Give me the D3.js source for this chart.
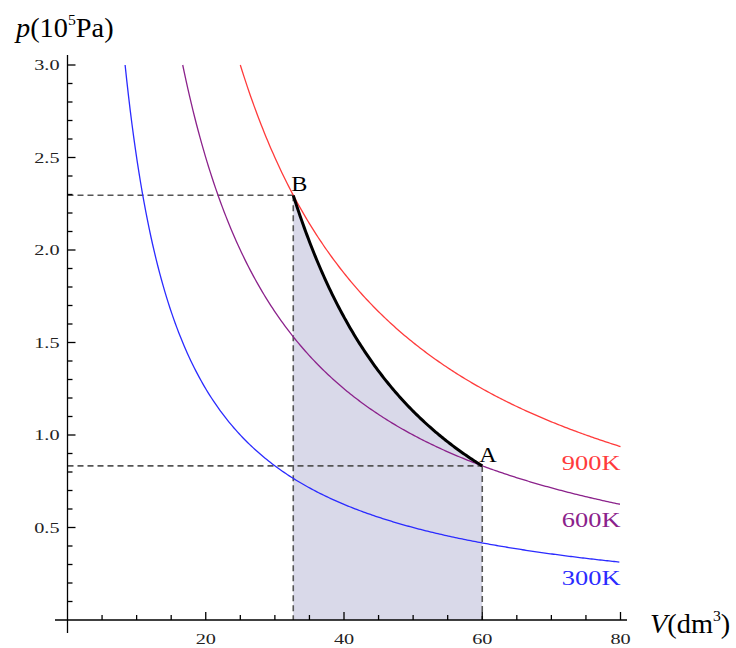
<!DOCTYPE html>
<html lang="en">
<head>
<meta charset="UTF-8">
<title>Isotherms and adiabat</title>
<script src="https://d3js.org/d3.v7.min.js"></script>
<style>
    body { margin: 0; background: #fff; }
    text { font-family: "Liberation Serif", "Times New Roman", serif; }
    .tick-label { font-size: 15px; fill: #222; }
    .axis-title { font-size: 27px; fill: #000; }
    .curve-label { font-size: 22px; }
</style>
</head>
<body>
<script>
// isotherms: p*V = const (10^5 Pa * dm^3)
const temps = [300, 600, 900];
const pvProducts = [25, 50, 75];
const isoColors = ["#2b2bff", "#8b228b", "#ff3b3b"];

// state points
const pointNames = ["A", "B"];
const pointV = [60, 32.66];
const pointP = [0.833, 2.296];
const gamma = 5 / 3;

const xMajor = [20, 40, 60, 80];
const yMajor = [0.5, 1.0, 1.5, 2.0, 2.5, 3.0];

const width = 736, height = 648;
const svg = d3.select("body").append("svg")
    .attr("width", width).attr("height", height);

const x = d3.scaleLinear().domain([0, 80]).range([67.5, 620.5]);
const y = d3.scaleLinear().domain([0, 3]).range([620, 65]);

// text stretched horizontally a bit, like the original rendering
function label(px, py, str, cls, anchor, sx) {
    const g = svg.append("g").attr("transform", `translate(${px},${py}) scale(${sx},1)`);
    return g.append("text").attr("class", cls).attr("text-anchor", anchor || "start").text(str);
}

// shaded area under the adiabat A -> B
const adiabatK = pointP[0] * Math.pow(pointV[0], gamma);
const adiabatPts = d3.range(pointV[1], pointV[0] + 0.001, 0.2).map(v => [v, adiabatK / Math.pow(v, gamma)]);
adiabatPts[adiabatPts.length - 1] = [pointV[0], pointP[0]];

svg.append("path")
    .datum(adiabatPts)
    .attr("fill", "#d9d9e9")
    .attr("d", d3.area().x(d => x(d[0])).y0(y(0)).y1(d => y(d[1])));

// dashed guides
const dashes = svg.append("g")
    .attr("stroke", "#555").attr("stroke-width", 1.6).attr("stroke-dasharray", "6,4");
pointNames.forEach((n, i) => {
    dashes.append("line")
        .attr("x1", x(0)).attr("x2", x(pointV[i]))
        .attr("y1", y(pointP[i])).attr("y2", y(pointP[i]));
    dashes.append("line")
        .attr("x1", x(pointV[i])).attr("x2", x(pointV[i]))
        .attr("y1", y(pointP[i])).attr("y2", y(0));
});

// isotherms
const line = d3.line().x(d => x(d[0])).y(d => y(d[1]));
temps.forEach((t, i) => {
    const c = pvProducts[i];
    const pts = d3.range(c / 3, 80.001, 0.25).map(v => [v, c / v]);
    svg.append("path").datum(pts)
        .attr("fill", "none").attr("stroke", isoColors[i]).attr("stroke-width", 1.3)
        .attr("d", line);
    label(x(80), y(c / 80) + 23, t + "K", "curve-label", "end", 1.2)
        .attr("fill", isoColors[i]);
});

// adiabat
svg.append("path").datum(adiabatPts)
    .attr("fill", "none").attr("stroke", "#000").attr("stroke-width", 3)
    .attr("d", line);

// point labels
label(x(pointV[0]) - 3, y(pointP[0]) - 4, pointNames[0], "curve-label", "start", 1.1);
label(x(pointV[1]) - 2, y(pointP[1]) - 4, pointNames[1], "curve-label", "start", 1.1);

// axes
const axes = svg.append("g").attr("stroke", "#000").attr("stroke-width", 1.3);
axes.append("line").attr("x1", 55).attr("x2", 627).attr("y1", y(0)).attr("y2", y(0));
axes.append("line").attr("x1", x(0)).attr("x2", x(0)).attr("y1", 55).attr("y2", 633);

d3.range(5, 80.001, 5).forEach(v => {
    const major = xMajor.includes(v);
    axes.append("line").attr("x1", x(v)).attr("x2", x(v))
        .attr("y1", y(0)).attr("y2", y(0) - (major ? 8 : 5));
});
d3.range(1, 31).map(k => k / 10).forEach(p => {
    const major = yMajor.some(m => Math.abs(m - p) < 1e-6);
    axes.append("line").attr("x1", x(0)).attr("x2", x(0) + (major ? 8 : 5))
        .attr("y1", y(p)).attr("y2", y(p));
});

xMajor.forEach(v => label(x(v), y(0) + 24, v, "tick-label", "middle", 1.35));
yMajor.forEach(p => label(x(0) - 8, y(p) + 5, p.toFixed(1), "tick-label", "end", 1.35));

// axis titles
const yt = label(16, 37, "", "axis-title", "start", 1.05);
yt.append("tspan").attr("font-style", "italic").text("p");
yt.append("tspan").text("(10");
yt.append("tspan").attr("font-size", 15).attr("dy", -12).text("5");
yt.append("tspan").attr("dy", 12).text("Pa)");

const xt = label(650, 633, "", "axis-title", "start", 1.05);
xt.append("tspan").attr("font-style", "italic").text("V");
xt.append("tspan").text("(dm");
xt.append("tspan").attr("font-size", 15).attr("dy", -12).text("3");
xt.append("tspan").attr("dy", 12).text(")");
</script>
</body>
</html>
